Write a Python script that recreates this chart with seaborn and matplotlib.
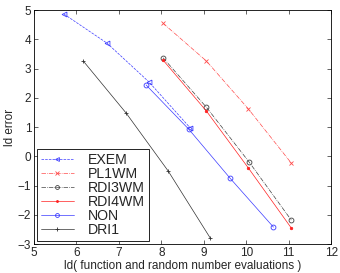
import numpy as np
import pandas as pd
import seaborn as sns
import matplotlib
matplotlib.use('Agg')
import matplotlib.pyplot as plt

# data
series = ['EXEM', 'PL1WM', 'RDI3WM', 'RDI4WM', 'NON', 'DRI1']
x_exem = [5.71, 6.72, 7.71, 8.68]
y_exem = [4.86, 3.87, 2.54, 0.97]
x_pl1 = [8.04, 9.06, 10.05, 11.06]
y_pl1 = [4.55, 3.26, 1.62, -0.23]
x_rdi3 = [8.04, 9.06, 10.07, 11.06]
y_rdi3 = [3.37, 1.68, -0.20, -2.18]
x_rdi4 = [8.04, 9.06, 10.05, 11.06]
y_rdi4 = [3.29, 1.55, -0.40, -2.45]
x_non = [7.64, 8.65, 9.62, 10.64]
y_non = [2.44, 0.92, -0.75, -2.42]
x_dri = [6.16, 7.17, 8.16, 9.15]
y_dri = [3.26, 1.48, -0.50, -2.79]

xs = [x_exem, x_pl1, x_rdi3, x_rdi4, x_non, x_dri]
ys = [y_exem, y_pl1, y_rdi3, y_rdi4, y_non, y_dri]

styles = {
    'EXEM':   dict(color='#3a3aff', linestyle='--', marker='<', mfc='none'),
    'PL1WM':  dict(color='#ff4a4a', linestyle='-.', marker='x', mfc='none'),
    'RDI3WM': dict(color='#404040', linestyle='-.', marker='o', mfc='none'),
    'RDI4WM': dict(color='#ff2020', linestyle='-', marker='.', mfc='#ff2020'),
    'NON':    dict(color='#3a3aff', linestyle='-', marker='o', mfc='none'),
    'DRI1':   dict(color='#303030', linestyle='-', marker='+', mfc='none'),
}

sns.set_style("ticks")
plt.rcParams['font.family'] = ['Liberation Sans', 'DejaVu Sans']

fig = plt.figure(figsize=(3.4, 2.73), dpi=100)
ax = fig.add_axes([0.1, 0.106, 0.874, 0.857])

for name, x, y in zip(series, xs, ys):
    df = pd.DataFrame({'x': x, 'y': y})
    st = styles[name]
    sns.lineplot(data=df, x='x', y='y', ax=ax, sort=False, label=name,
                 color=st['color'], linestyle=st['linestyle'], marker=st['marker'],
                 markerfacecolor=st['mfc'], markeredgecolor=st['color'],
                 markersize=3.5, markeredgewidth=0.6, linewidth=0.5)

ax.set_xlim(5, 12)
ax.set_ylim(-3, 5)
ax.set_xticks(np.arange(5, 13))
ax.set_yticks(np.arange(-3, 6))
ax.set_yticklabels([str(v).replace('-', '\u2212') for v in range(-3, 6)])
ax.tick_params(direction='in', top=True, right=True, labelsize=8.5, length=3, width=0.5, pad=2)
for sp in ax.spines.values():
    sp.set_linewidth(0.6)
    sp.set_color('black')
ax.set_xlabel('ld( function and random number evaluations )', fontsize=8.5, labelpad=1)
ax.set_ylabel('ld error', fontsize=8.5, labelpad=1)

leg = ax.legend(loc='lower left', fontsize=10.2, fancybox=False, framealpha=1,
                edgecolor='black', handlelength=2.3, labelspacing=0.0,
                borderpad=0.3, handletextpad=1.0, borderaxespad=0.2, markerscale=0.8)
leg.get_frame().set_linewidth(0.6)

fig.savefig('out.png', dpi=100)
